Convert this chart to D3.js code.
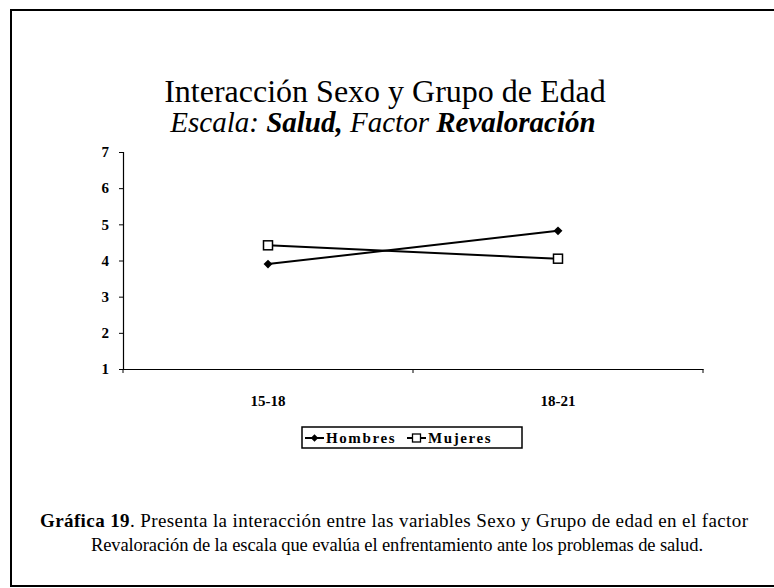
<!DOCTYPE html>
<html>
<head>
<meta charset="utf-8">
<script src="https://cdn.jsdelivr.net/npm/d3@7"></script>
<style>
  body { margin: 0; background: #fff; overflow: hidden; }
  svg text, svg tspan { font-family: "Liberation Serif", "Times New Roman", "DejaVu Serif", serif; fill: #000; }
</style>
</head>
<body>
<div id="chart"></div>
<script>
// --------- DATA ---------
const groups = ["15-18", "18-21"];
const hombres = [3.9, 4.82];
const mujeres = [4.42, 4.05];
const yTicks = [1, 2, 3, 4, 5, 6, 7];
const seriesNames = ["Hombres", "Mujeres"];

const SERIF = "'Liberation Serif', 'Times New Roman', serif";
const W = 774, H = 588;
const margin = {top: 152, right: 71, bottom: 219, left: 123},
      width = W - margin.left - margin.right,
      height = H - margin.top - margin.bottom;

let svg = d3.select("#chart")
    .append("svg")
    .attr("width", W)
    .attr("height", H);

// page frame (right side runs off the picture)
svg.append("rect")
    .attr("x", 11).attr("y", 10)
    .attr("width", 900).attr("height", 576)
    .attr("fill", "none")
    .attr("stroke", "#000")
    .attr("stroke-width", 2);

// Titles
svg.append("text")
    .attr("x", 385).attr("y", 102)
    .attr("text-anchor", "middle")
    .attr("font-family", SERIF)
    .style("font-size", "32px")
    .text("Interacción Sexo y Grupo de Edad");

let sub = svg.append("text")
    .attr("x", 383).attr("y", 132)
    .attr("text-anchor", "middle")
    .attr("font-family", SERIF)
    .style("font-size", "29px")
    .style("font-style", "italic");
sub.append("tspan").attr("font-family", SERIF).text("Escala: ");
sub.append("tspan").attr("font-family", SERIF).style("font-weight", "bold").text("Salud,");
sub.append("tspan").attr("font-family", SERIF).text(" Factor ");
sub.append("tspan").attr("font-family", SERIF).style("font-weight", "bold").text("Revaloración");

let graph = svg.append("g")
    .attr("transform", "translate(" + margin.left + "," + margin.top + ")");

// Scales
let xScale = d3.scaleBand().domain(groups).range([0, width]);
let yScale = d3.scaleLinear().domain([1, 7]).range([height, 0]);

// Y axis
let yAxis = graph.append("g")
    .attr("font-family", SERIF)
    .call(d3.axisLeft(yScale).tickValues(yTicks).tickFormat(d3.format("d")).tickSize(4).tickPadding(10));
yAxis.select(".domain").attr("stroke-width", 1.2);
yAxis.selectAll("text")
    .style("font-size", "15px")
    .style("font-weight", "bold");

// X axis, ticks on category boundaries
let xAxis = graph.append("g")
    .attr("font-family", SERIF)
    .attr("transform", "translate(0," + height + ")")
    .call(d3.axisBottom(xScale).tickSize(0).tickPadding(26));
xAxis.select(".domain").attr("stroke-width", 1.2);
xAxis.selectAll("text")
    .style("font-size", "15px")
    .style("font-weight", "bold");
graph.append("g")
    .selectAll("line")
    .data(groups.map(g => xScale(g)).concat([width]))
    .join("line")
    .attr("x1", d => d).attr("x2", d => d)
    .attr("y1", height).attr("y2", height + 4)
    .attr("stroke", "#000");

// Lines
let line = d3.line()
    .x((d, i) => xScale(groups[i]) + xScale.bandwidth() / 2)
    .y(d => yScale(d));

graph.append("path")
    .attr("fill", "none").attr("stroke", "#000").attr("stroke-width", 2)
    .attr("d", line(hombres));
graph.append("path")
    .attr("fill", "none").attr("stroke", "#000").attr("stroke-width", 2)
    .attr("d", line(mujeres));

// Markers
let diamond = d3.symbol().type(d3.symbolDiamond2).size(50);
graph.selectAll(".hm")
    .data(hombres)
    .join("path")
    .attr("class", "hm")
    .attr("transform", (d, i) => "translate(" + (xScale(groups[i]) + xScale.bandwidth() / 2) + "," + yScale(d) + ")")
    .attr("d", diamond)
    .attr("fill", "#000");

graph.selectAll(".mm")
    .data(mujeres)
    .join("rect")
    .attr("class", "mm")
    .attr("x", (d, i) => xScale(groups[i]) + xScale.bandwidth() / 2 - 4.5)
    .attr("y", d => yScale(d) - 4.5)
    .attr("width", 9).attr("height", 9)
    .attr("fill", "#fff").attr("stroke", "#000").attr("stroke-width", 1.5);

// Legend
let lg = svg.append("g").attr("transform", "translate(302,427)");
lg.append("rect")
    .attr("width", 220).attr("height", 21)
    .attr("fill", "#fff").attr("stroke", "#000").attr("stroke-width", 1.5);

let legendX = [3, 105];
seriesNames.forEach((name, i) => {
    let g = lg.append("g").attr("transform", "translate(" + legendX[i] + ",11)");
    g.append("line").attr("x1", 0).attr("x2", 19).attr("stroke", "#000").attr("stroke-width", 2);
    if (i === 0) {
        g.append("path").attr("transform", "translate(9.5,0)")
            .attr("d", d3.symbol().type(d3.symbolDiamond2).size(36)).attr("fill", "#000");
    } else {
        g.append("rect").attr("x", 5.5).attr("y", -4).attr("width", 8).attr("height", 8)
            .attr("fill", "#fff").attr("stroke", "#000").attr("stroke-width", 1.3);
    }
    g.append("text")
        .attr("x", 21).attr("y", 5)
        .attr("font-family", SERIF)
        .style("font-size", "15px")
        .style("font-weight", "bold")
        .style("letter-spacing", "1.6px")
        .text(name);
});

// Caption
let cap1 = svg.append("text")
    .attr("x", 394).attr("y", 527)
    .attr("text-anchor", "middle")
    .attr("font-family", SERIF)
    .style("font-size", "19px");
cap1.append("tspan").attr("font-family", SERIF).style("font-weight", "bold").text("Gráfica 19");
cap1.append("tspan").attr("font-family", SERIF).text(". Presenta la interacción entre las variables Sexo y Grupo de edad en el factor");

let cap2 = svg.append("text")
    .attr("x", 397).attr("y", 551)
    .attr("text-anchor", "middle")
    .attr("font-family", SERIF)
    .style("font-size", "18.5px")
    .text("Revaloración de la escala que evalúa el enfrentamiento ante los problemas de salud.");

// fit the caption lines to the widths seen in the scan
cap1.attr("textLength", 708).attr("lengthAdjust", "spacing");
cap2.attr("textLength", 612).attr("lengthAdjust", "spacing");
</script>
</body>
</html>
